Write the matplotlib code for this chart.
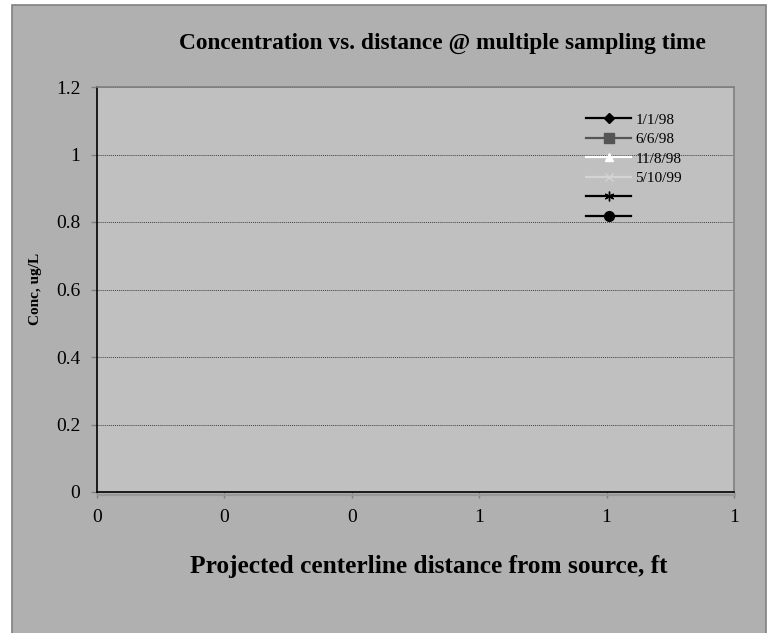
import matplotlib.pyplot as plt
from matplotlib.lines import Line2D
from matplotlib.patches import Rectangle
from matplotlib.ticker import FuncFormatter

plt.rcParams['font.family'] = ['Liberation Serif', 'DejaVu Serif']

# series in the chart (no points were plotted in the source chart)
series_labels = ['1/1/98', '6/6/98', '11/8/98', '5/10/99', '', '']
distance = [[], [], [], [], [], []]
conc = [[], [], [], [], [], []]

x_ticks = [0, 0.2, 0.4, 0.6, 0.8, 1.0]
y_ticks = [0, 0.2, 0.4, 0.6, 0.8, 1.0, 1.2]

styles = [
    dict(color='black', marker='D', markersize=5),
    dict(color='#555555', marker='s', markersize=7),
    dict(color='white', marker='^', markersize=6),
    dict(color='#d4d4d4', marker='x', markersize=6),
    dict(color='black', marker=(6, 2, 0), markersize=7),
    dict(color='black', marker='o', markersize=7),
]

fig = plt.figure(figsize=(7.75, 6.33), dpi=100)
fig.patch.set_facecolor('white')
fig.patches.append(Rectangle((12 / 775, -0.05), 754 / 775, 1.05 - 5 / 633,
                             transform=fig.transFigure, facecolor='#b0b0b0',
                             edgecolor='#808080', linewidth=1.2, zorder=-10))

ax = fig.add_axes([97 / 775, (633 - 492) / 633, 637 / 775, 405 / 633])
ax.set_facecolor('#c0c0c0')

handles = []
for xs, ys, st in zip(distance, conc, styles):
    h, = ax.plot(xs, ys, linewidth=1.6, **st)
    handles.append(h)

ax.set_xlim(0, 1)
ax.set_ylim(0, 1.2)
ax.set_xticks(x_ticks)
ax.set_yticks(y_ticks)
ax.xaxis.set_major_formatter(FuncFormatter(lambda v, p: f'{v:.0f}'))
ax.yaxis.set_major_formatter(FuncFormatter(lambda v, p: f'{v:g}'))
ax.tick_params(direction='out', length=4, width=1, color='#808080',
               labelsize=14, pad=8)
ax.grid(True, axis='y', color='#404040', linestyle=(0, (1, 1)), linewidth=0.7)
ax.set_axisbelow(True)

for s in ['left', 'bottom']:
    ax.spines[s].set_color('black')
    ax.spines[s].set_linewidth(1.2)
for s in ['top', 'right']:
    ax.spines[s].set_color('#808080')
    ax.spines[s].set_linewidth(1.2)

# shadow under the x axis line
fig.lines.append(Line2D([98 / 775, 735 / 775], [(633 - 494.5) / 633] * 2,
                        transform=fig.transFigure, color='#989898', linewidth=1.6))

fig.text(442 / 775, 1 - 43 / 633, 'Concentration vs. distance @ multiple sampling time',
         ha='center', va='center', fontsize=16.8, fontweight='bold')
fig.text(429 / 775, 1 - 566 / 633, 'Projected centerline distance from source, ft',
         ha='center', va='center', fontsize=18.3, fontweight='bold')
fig.text(35 / 775, 1 - 289 / 633, 'Conc, ug/L', ha='center', va='center',
         rotation=90, fontsize=11, fontweight='bold')

ax.legend(handles, series_labels, loc='upper left',
          bbox_to_anchor=(586 / 775, 1 - 113 / 633), bbox_transform=fig.transFigure,
          frameon=False, fontsize=11, handlelength=2.95, handletextpad=0.27,
          labelspacing=0.38, borderpad=0, borderaxespad=0)

fig.savefig('out.png', dpi=100, facecolor=fig.get_facecolor())
